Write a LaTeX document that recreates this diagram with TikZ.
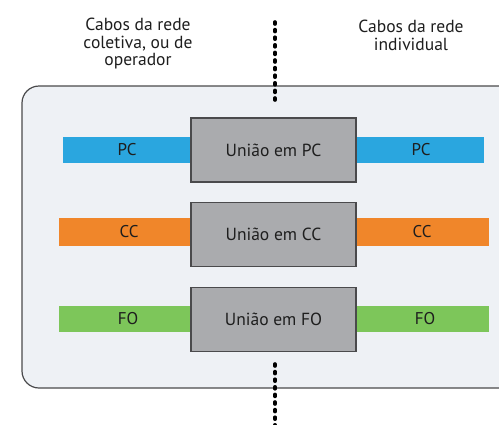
\documentclass[tikz,border=0pt]{standalone}
\usepackage{fontspec}
\setmainfont{PT Sans}
\definecolor{bgpanel}{HTML}{EEF1F5}
\definecolor{pcblue}{HTML}{2AA6DF}
\definecolor{ccorange}{HTML}{F0862A}
\definecolor{fogreen}{HTML}{7DC65A}
\definecolor{boxgray}{HTML}{AAABAE}
\definecolor{boxedge}{HTML}{4A4A4C}
\definecolor{txt}{HTML}{1E1E1E}
\begin{document}
\begin{tikzpicture}[x=1pt,y=-1pt,
  panel/.style={draw=boxedge, line width=1.2pt, fill=bgpanel, rounded corners=17pt},
  bar/.style={inner sep=0pt, text=txt, font=\fontsize{17}{19}\selectfont},
  joinbox/.style={draw=boxedge, line width=1.2pt, fill=boxgray, text=txt, minimum width=165pt, minimum height=64pt, inner sep=0pt, font=\fontsize{17.5}{19}\selectfont},
  headtext/.style={align=center, text=txt, font=\fontsize{17.5}{17.5}\selectfont},
  dotline/.style={line width=3.6pt, line cap=round, dash pattern=on 2pt off 5.6pt}]
\useasboundingbox (0,0) rectangle (499,424);
\fill[white] (0,0) rectangle (499,424);
% panel extends beyond right edge
\begin{scope}
\clip (0,0) rectangle (499,424);
\draw[panel] (22,86) rectangle (530,388);
\end{scope}
% bars
\fill[pcblue] (63,137) rectangle (484,163);
\fill[ccorange] (59,218) rectangle (489,246);
\fill[fogreen] (59,306) rectangle (489,332);
% bar labels
\node[bar] (pcl) at (127,150) {PC};
\node[bar] (pcr) at (421,150) {PC};
\node[bar] (ccl) at (129,232) {CC};
\node[bar] (ccr) at (422,232) {CC};
\node[bar] (fol) at (128,319) {FO};
\node[bar] (for) at (425,319) {FO};
% union boxes
\node[joinbox] (upc) at (273.5,150) {União em PC};
\node[joinbox] (ucc) at (273.5,234.5) {União em CC};
\node[joinbox] (ufo) at (273.5,319.5) {União em FO};
% headers
\node[headtext] (hl) at (138,44) {Cabos da rede\\coletiva, ou de\\operador};
\node[headtext] (hr) at (411,35.5) {Cabos da rede\\individual};
% dotted divider
\coordinate (dtop) at (275,22);
\coordinate (dtopend) at (275,100);
\coordinate (dbot) at (275,364);
\coordinate (dbotend) at (275,428);
\draw[dotline] (dtop) -- (dtopend);
\draw[dotline] (dbot) -- (dbotend);
\end{tikzpicture}
\end{document}
